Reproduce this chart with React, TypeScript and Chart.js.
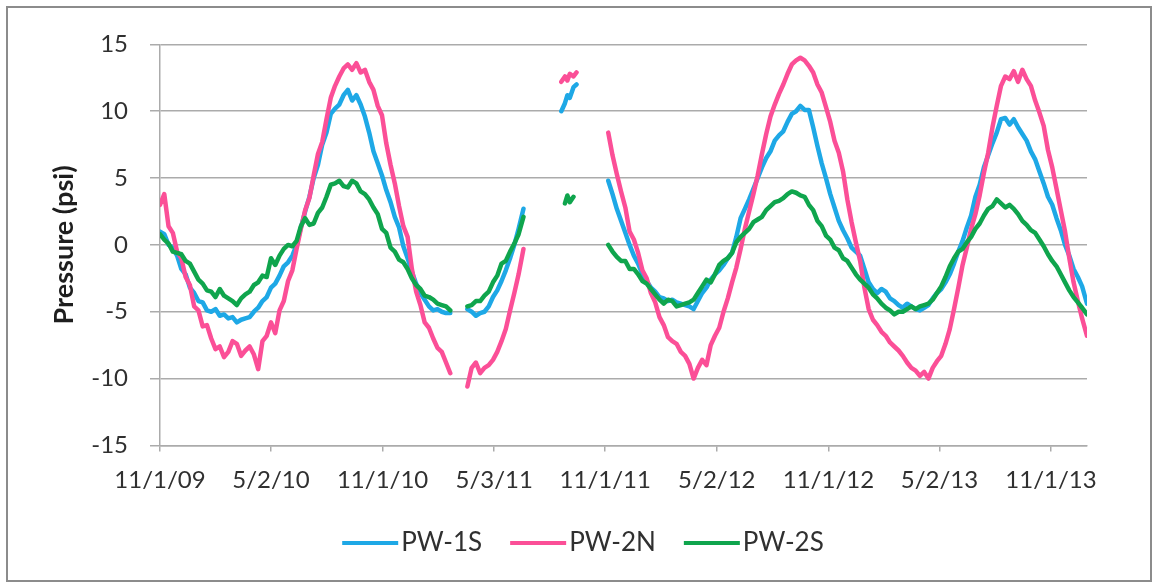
import React, { useEffect, useRef } from 'react';
import { Chart, registerables } from 'chart.js';

Chart.register(...registerables);

// Days since 11/1/09 (null entries in the series mark logger gaps)
const DAYS = [
  0, 7, 14, 21, 28, 35, 42, 49, 56, 63, 70, 77, 84, 91, 98, 105, 112, 119, 126, 133,
  140, 147, 154, 161, 168, 175, 182, 189, 196, 203, 210, 217, 224, 231, 238, 245, 252, 259, 266, 273,
  280, 287, 294, 301, 308, 315, 322, 329, 336, 343, 350, 357, 364, 371, 378, 385, 392, 399, 406, 413,
  420, 427, 434, 441, 448, 455, 462, 469, 476, 490, 504, 511, 518, 525, 532, 539, 546, 553, 560, 567,
  574, 581, 588, 596, 620, 658, 664, 668, 672, 678, 683, 710, 735, 742, 749, 756, 763, 770, 777, 784,
  791, 798, 805, 812, 819, 826, 833, 840, 847, 854, 861, 868, 875, 882, 889, 896, 903, 910, 917, 924,
  931, 938, 945, 952, 959, 966, 973, 980, 987, 994, 1001, 1008, 1015, 1022, 1029, 1036, 1043, 1050, 1057, 1064,
  1071, 1078, 1085, 1092, 1099, 1106, 1113, 1120, 1127, 1134, 1141, 1148, 1155, 1162, 1169, 1176, 1183, 1190, 1197, 1204,
  1211, 1218, 1225, 1232, 1239, 1246, 1253, 1260, 1267, 1274, 1281, 1288, 1295, 1302, 1309, 1316, 1323, 1330, 1337, 1344,
  1351, 1358, 1365, 1372, 1379, 1386, 1393, 1400, 1407, 1414, 1421, 1428, 1435, 1442, 1449, 1456, 1463, 1470, 1477, 1484,
  1491, 1498, 1505, 1512, 1520,
];

const PW_1S = [
  1.0, 0.8, 0.0, -0.2, -0.8, -1.8, -2.2, -3.2, -3.6, -4.2, -4.3, -4.9, -5.0, -4.8, -5.3, -5.2, -5.5, -5.4, -5.8, -5.6,
  -5.5, -5.4, -5.0, -4.7, -4.2, -3.9, -3.2, -2.9, -2.3, -1.6, -1.3, -0.8, 0.0, 1.3, 2.5, 3.6, 5.0, 6.0, 7.5, 8.4,
  9.8, 10.2, 10.5, 11.2, 11.6, 10.8, 11.2, 10.5, 9.6, 8.4, 7.0, 6.1, 5.2, 4.1, 3.2, 2.1, 1.3, -0.1, -1.0, -2.0,
  -2.9, -3.6, -4.1, -4.6, -4.9, -4.8, -5.0, -5.1, -5.1, null, -4.8, -5.0, -5.3, -5.1, -5.0, -4.6, -3.9, -3.4, -2.7, -1.9,
  -1.0, 0.0, 1.2, 2.7, null, 10.0, 10.6, 11.2, 11.0, 11.8, 12.0, null, 4.8, 3.8, 2.7, 1.8, 0.9, 0.0, -0.8, -1.4,
  -2.2, -2.7, -3.2, -3.5, -3.9, -4.0, -4.2, -4.1, -4.3, -4.4, -4.5, -4.6, -4.8, -4.2, -3.6, -3.2, -2.6, -2.2, -1.9, -1.5,
  -1.0, -0.6, 0.6, 2.0, 2.7, 3.4, 4.2, 5.0, 5.8, 6.5, 7.0, 7.8, 8.2, 8.5, 9.2, 9.8, 10.0, 10.4, 10.1, 10.1,
  8.8, 7.4, 6.1, 5.0, 3.8, 2.8, 1.8, 1.1, 0.5, -0.2, -0.5, -0.8, -1.8, -2.8, -3.3, -3.6, -3.3, -3.5, -4.0, -4.2,
  -4.5, -4.7, -4.4, -4.6, -4.8, -4.9, -4.7, -4.5, -4.0, -3.6, -3.3, -2.8, -2.2, -1.4, -0.5, 0.3, 1.3, 2.2, 3.6, 4.5,
  5.8, 6.7, 7.6, 8.4, 9.4, 9.5, 9.0, 9.4, 8.8, 8.3, 7.8, 7.0, 6.4, 5.5, 4.6, 3.6, 3.0, 2.0, 1.1, 0.0,
  -0.8, -1.8, -2.4, -3.1, -4.4,
];

const PW_2N = [
  3.0, 3.8, 1.4, 0.9, -0.5, -1.0, -2.4, -3.0, -4.6, -4.9, -6.1, -6.0, -7.0, -7.8, -7.6, -8.4, -8.0, -7.2, -7.4, -8.3,
  -7.9, -7.6, -8.2, -9.3, -7.2, -6.8, -5.8, -6.6, -4.9, -4.2, -2.7, -1.9, -0.3, 1.2, 2.6, 3.5, 5.2, 6.8, 7.7, 9.4,
  11.0, 11.9, 12.6, 13.2, 13.5, 13.1, 13.6, 12.9, 13.1, 12.2, 11.6, 10.4, 9.7, 7.6, 6.0, 4.6, 2.9, 1.4, 0.6, -1.8,
  -3.5, -4.5, -5.8, -6.2, -7.0, -7.7, -8.0, -8.8, -9.6, null, -10.6, -9.2, -8.8, -9.6, -9.2, -9.0, -8.6, -8.0, -7.2, -6.3,
  -4.9, -3.6, -2.2, -0.3, null, 12.2, 12.6, 12.3, 12.8, 12.6, 12.9, null, 8.4, 6.7, 5.3, 4.0, 2.8, 1.0, 0.4, -0.6,
  -1.9, -2.5, -3.6, -4.3, -5.4, -6.0, -6.9, -7.2, -7.4, -8.0, -8.3, -8.9, -10.0, -9.2, -8.6, -9.0, -7.5, -6.8, -6.2, -5.0,
  -4.0, -2.8, -1.7, -0.3, 1.2, 2.5, 3.8, 5.2, 6.8, 8.3, 9.6, 10.5, 11.3, 12.0, 12.8, 13.5, 13.8, 14.0, 13.8, 13.4,
  12.9, 12.0, 11.4, 10.3, 9.2, 7.8, 6.9, 5.5, 3.4, 1.7, 0.2, -1.2, -3.2, -4.8, -5.6, -6.0, -6.5, -6.8, -7.3, -7.6,
  -7.9, -8.3, -8.8, -9.2, -9.4, -9.8, -9.5, -10.0, -9.2, -8.7, -8.3, -7.4, -6.3, -4.8, -3.2, -1.5, -0.2, 1.2, 2.3, 3.7,
  5.4, 6.9, 8.8, 10.4, 11.9, 12.6, 12.4, 13.0, 12.2, 13.1, 12.4, 11.9, 10.8, 9.9, 8.9, 7.1, 5.8, 4.2, 2.6, 1.0,
  -1.0, -2.8, -4.2, -5.5, -6.8,
];

const PW_2S = [
  0.8, 0.4, 0.1, -0.5, -0.6, -0.7, -1.2, -1.4, -2.0, -2.6, -2.9, -3.4, -3.5, -3.9, -3.3, -3.8, -4.0, -4.2, -4.5, -4.0,
  -3.7, -3.5, -3.0, -2.8, -2.3, -2.4, -1.0, -1.5, -0.8, -0.3, 0.0, -0.1, 0.3, 1.4, 2.0, 1.5, 1.6, 2.4, 2.8, 3.6,
  4.5, 4.6, 4.8, 4.4, 4.3, 4.8, 4.6, 4.0, 3.8, 3.4, 2.8, 2.3, 1.2, 0.9, -0.2, -0.5, -1.1, -1.3, -1.8, -2.5,
  -3.0, -3.3, -3.8, -3.9, -4.1, -4.4, -4.5, -4.6, -4.9, null, -4.6, -4.5, -4.2, -4.2, -3.8, -3.5, -2.8, -2.3, -1.4, -1.2,
  -0.5, 0.1, 0.8, 2.1, null, null, 3.1, 3.7, 3.2, 3.6, null, null, 0.0, -0.5, -0.9, -1.2, -1.2, -1.8, -1.8, -2.2,
  -2.7, -2.9, -3.3, -3.7, -4.1, -4.4, -4.1, -4.2, -4.6, -4.5, -4.4, -4.3, -4.1, -3.6, -3.1, -2.6, -2.8, -2.2, -1.5, -1.2,
  -1.0, -0.6, 0.2, 0.6, 0.9, 1.2, 1.7, 1.9, 2.1, 2.6, 2.9, 3.2, 3.3, 3.5, 3.8, 4.0, 3.9, 3.7, 3.6, 3.0,
  2.6, 1.8, 1.4, 0.7, 0.4, -0.2, -0.4, -1.0, -1.2, -1.7, -2.2, -2.6, -2.9, -3.2, -3.7, -4.0, -4.4, -4.7, -4.9, -5.2,
  -5.0, -5.0, -4.8, -4.6, -4.8, -4.6, -4.5, -4.4, -4.1, -3.6, -3.1, -2.4, -1.6, -1.0, -0.5, -0.3, 0.2, 0.6, 1.2, 1.6,
  2.2, 2.7, 2.9, 3.4, 3.1, 2.8, 3.0, 2.7, 2.3, 1.8, 1.5, 1.1, 0.9, 0.4, -0.1, -0.7, -1.2, -1.6, -2.2, -2.8,
  -3.4, -3.9, -4.3, -4.7, -5.2,
];

const SERIES_LABELS = ['PW-1S', 'PW-2N', 'PW-2S'];
const SERIES_COLORS = ['#1ea8e6', '#fb4f97', '#0fa54d'];

const TICK_DAYS = [0, 182, 365, 548, 730, 913, 1096, 1278, 1461];
const TICK_LABELS = ['11/1/09', '5/2/10', '11/1/10', '5/3/11', '11/1/11', '5/2/12', '11/1/12', '5/2/13', '11/1/13'];

const X_MAX = 1520;
const Y_MIN = -15;
const Y_MAX = 15;
const Y_STEP = 5;

const FONT = 'Lato, "Liberation Sans", sans-serif';
const TEXT_COLOR = '#303030';
const GRID_COLOR = '#ababab';

const legendPlugin = {
  id: 'bottomLegend',
  afterDraw(chart: any) {
    const ctx = chart.ctx;
    ctx.save();
    ctx.font = `26px ${FONT}`;
    ctx.textBaseline = 'middle';
    const lineLen = 56;
    const gap = 3;
    const spacing = 28;
    const items = chart.data.datasets.map((ds: any) => ({
      label: ds.label,
      color: ds.borderColor,
      w: ctx.measureText(ds.label).width,
    }));
    const total =
      items.reduce((s: number, it: any) => s + lineLen + gap + it.w, 0) + spacing * (items.length - 1);
    let x = (chart.width - total) / 2 + 4;
    const y = 535;
    items.forEach((it: any) => {
      ctx.strokeStyle = it.color;
      ctx.lineWidth = 4;
      ctx.beginPath();
      ctx.moveTo(x, y);
      ctx.lineTo(x + lineLen, y);
      ctx.stroke();
      x += lineLen + gap;
      ctx.fillStyle = TEXT_COLOR;
      ctx.fillText(it.label, x, y);
      x += it.w + spacing;
    });
    ctx.restore();
  },
};

export default function App() {
  const ref = useRef<HTMLCanvasElement | null>(null);

  useEffect(() => {
    if (!ref.current) return;
    const series = [PW_1S, PW_2N, PW_2S];
    const chart = new Chart(ref.current, {
      type: 'line',
      data: {
        datasets: series.map((vals, i) => ({
          label: SERIES_LABELS[i],
          data: DAYS.map((d, j) => ({ x: d, y: vals[j] })),
          borderColor: SERIES_COLORS[i],
          backgroundColor: SERIES_COLORS[i],
          borderWidth: 4.5,
          pointRadius: 0,
          tension: 0,
          spanGaps: false,
          borderJoinStyle: 'round' as const,
          borderCapStyle: 'round' as const,
          order: 2 - i,
        })),
      },
      options: {
        animation: false,
        responsive: true,
        maintainAspectRatio: false,
        layout: { padding: { left: 0, top: 33, right: 63, bottom: 0 } },
        plugins: {
          legend: { display: false },
          tooltip: { enabled: false },
        },
        scales: {
          x: {
            type: 'linear',
            min: 0,
            max: X_MAX,
            afterFit: (s: any) => {
              s.height = 134.6;
            },
            afterBuildTicks: (s: any) => {
              s.ticks = TICK_DAYS.map((v) => ({ value: v }));
            },
            ticks: {
              autoSkip: false,
              maxRotation: 0,
              padding: 14,
              color: TEXT_COLOR,
              font: { family: FONT, size: 24 },
              callback: (v: any) => {
                const i = TICK_DAYS.indexOf(Number(v));
                return i >= 0 ? TICK_LABELS[i] : '';
              },
            },
            grid: {
              drawOnChartArea: false,
              drawTicks: true,
              tickLength: 6,
              color: GRID_COLOR,
              lineWidth: 1.5,
            },
            border: { display: true, color: GRID_COLOR, width: 1.5 },
          },
          y: {
            min: Y_MIN,
            max: Y_MAX,
            afterFit: (s: any) => {
              s.width = 152;
            },
            ticks: {
              stepSize: Y_STEP,
              padding: 22,
              color: TEXT_COLOR,
              font: { family: FONT, size: 24 },
            },
            grid: {
              color: GRID_COLOR,
              lineWidth: 1.5,
              tickLength: 10,
            },
            border: { display: true, color: GRID_COLOR, width: 1.5 },
            title: {
              display: true,
              text: 'Pressure (psi)',
              color: '#1e1e1e',
              font: { family: FONT, size: 27, weight: 'bold' },
              padding: { top: 40, bottom: 0 },
            },
          },
        },
      },
      plugins: [legendPlugin],
    });
    return () => chart.destroy();
  }, []);

  return (
    <div
      style={{
        position: 'absolute',
        left: 6,
        top: 6,
        width: 1146,
        height: 576,
        border: '2px solid #8c8c8c',
        boxSizing: 'border-box',
        background: '#ffffff',
      }}
    >
      <canvas ref={ref} />
    </div>
  );
}
